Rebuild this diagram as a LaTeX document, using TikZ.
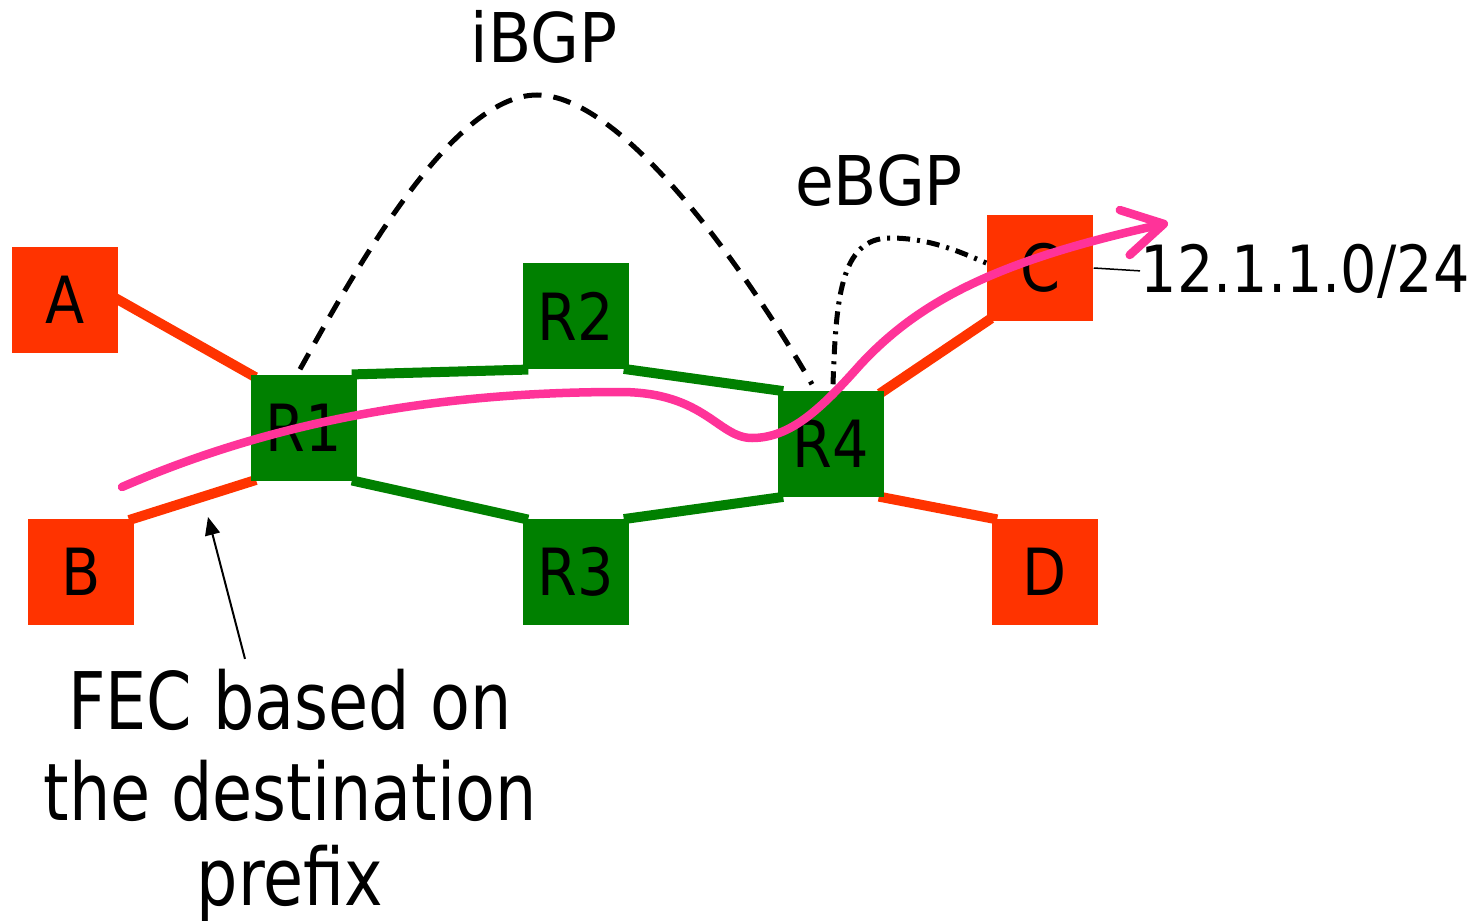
\documentclass[tikz,border=0pt]{standalone}
\usepackage{fontspec}
\setmainfont{DejaVu Sans}
\newfontfamily\lblfont[FakeStretch=0.88]{DejaVu Sans}
\newfontfamily\bgpfont[FakeStretch=0.92]{DejaVu Sans}
\newfontfamily\fecfont[FakeStretch=0.82]{DejaVu Sans}
\usetikzlibrary{arrows.meta,backgrounds}
\definecolor{hostc}{RGB}{255,51,0}
\definecolor{routc}{RGB}{0,128,0}
\definecolor{pathc}{RGB}{255,51,153}
\tikzset{
  box/.style={minimum width=1.06cm, minimum height=1.06cm, inner sep=0pt,
    font=\lblfont\fontsize{18.5}{22}\selectfont},
  host/.style={box, fill=hostc},
  router/.style={box, fill=routc},
  hlink/.style={draw=hostc, line width=0.1cm, shorten <=-0.06cm, shorten >=-0.06cm},
  rlink/.style={draw=routc, line width=0.1cm, shorten <=-0.06cm, shorten >=-0.06cm},
  ibgp/.style={draw=black, line width=0.05cm, dash pattern=on 0.18cm off 0.12cm},
  ebgp/.style={draw=black, line width=0.05cm, dash pattern=on 0.13cm off 0.07cm on 0.03cm off 0.07cm},
  lsp/.style={draw=pathc, line width=0.085cm, line cap=round,
    -{Straight Barb[length=0.4cm,width=0.46cm,round]}},
  lbl/.style={inner sep=0pt, font=\bgpfont\fontsize{19.5}{23}\selectfont},
  pfx/.style={inner sep=0pt, font=\lblfont\fontsize{18.5}{22}\selectfont},
  fec/.style={inner sep=0pt, font=\fecfont\fontsize{22.6}{27}\selectfont},
  ptr/.style={draw=black, line width=0.02cm, -{Triangle[length=0.18cm,width=0.15cm]}},
  thin/.style={draw=black, line width=0.015cm},
}
\begin{document}
\begin{tikzpicture}[x=0.01cm,y=-0.01cm]
\useasboundingbox (0,0) rectangle (1484,921);

% nodes
\node[host] (A) at (65,300) {A};
\node[host] (B) at (81,572) {B};
\node[router] (R1) at (304,428) {R1};
\node[router] (R2) at (576,316) {R2};
\node[router] (R3) at (576,572) {R3};
\node[router] (R4) at (831,444) {R4};
\node[host] (C) at (1040,268) {C};
\node[host] (D) at (1045,572) {D};

% labels
\node[lbl, anchor=base] (ibgpl) at (544,63) {iBGP};
\node[lbl, anchor=base] (ebgpl) at (879,205) {eBGP};
\node[pfx, anchor=base west] (prefix) at (1140,292) {12.1.1.0/24};
\node[fec, anchor=base] (fec1) at (290,729) {FEC based on};
\node[fec, anchor=base] (fec2) at (290,820) {the destination};
\node[fec, anchor=base] (fec3) at (290,905) {prefix};

% links
\begin{scope}[on background layer]
  \draw[hlink] (A.east) -- (R1.north west);
  \draw[hlink] (B.north east) -- (R1.south west);
  \draw[hlink] (R4.north east) -- (C.south west);
  \draw[hlink] (R4.south east) -- (D.north west);
  \draw[rlink] (R1.north east) -- (R2.south west);
  \draw[rlink] (R2.south east) -- (R4.north west);
  \draw[rlink] (R1.south east) -- (R3.north west);
  \draw[rlink] (R3.north east) -- (R4.south west);
\end{scope}

% BGP sessions
\draw[ibgp] ([shift={(-4,-5)}]R1.north) .. controls (350,280) and (450,95) .. (537,95)
  .. controls (620,95) and (740,260) .. ([shift={(-19,-6)}]R4.north);
\draw[ebgp] ([shift={(2,-6)}]R4.north) .. controls (836,300) and (840,238) .. (890,238)
  .. controls (930,238) and (960,252) .. ([shift={(0,-5)}]C.west);

% prefix marker
\draw[thin] (C.east) -- (prefix.west);

% FEC pointer
\coordinate (fectip) at (208,517);
\draw[ptr] ([shift={(-45,-9)}]fec1.north) -- (fectip);

% LSP path
\coordinate (lspS) at (122,487);
\coordinate (lspE) at (1168,223);
\draw[lsp] (lspS) .. controls (260,427) and (420,392) .. (620,392)
  .. controls (705,392) and (718,438) .. (752,438)
  .. controls (790,438) and (820,410) .. (860,365)
  .. controls (920,300) and (1000,260) .. (lspE);
\end{tikzpicture}
\end{document}
